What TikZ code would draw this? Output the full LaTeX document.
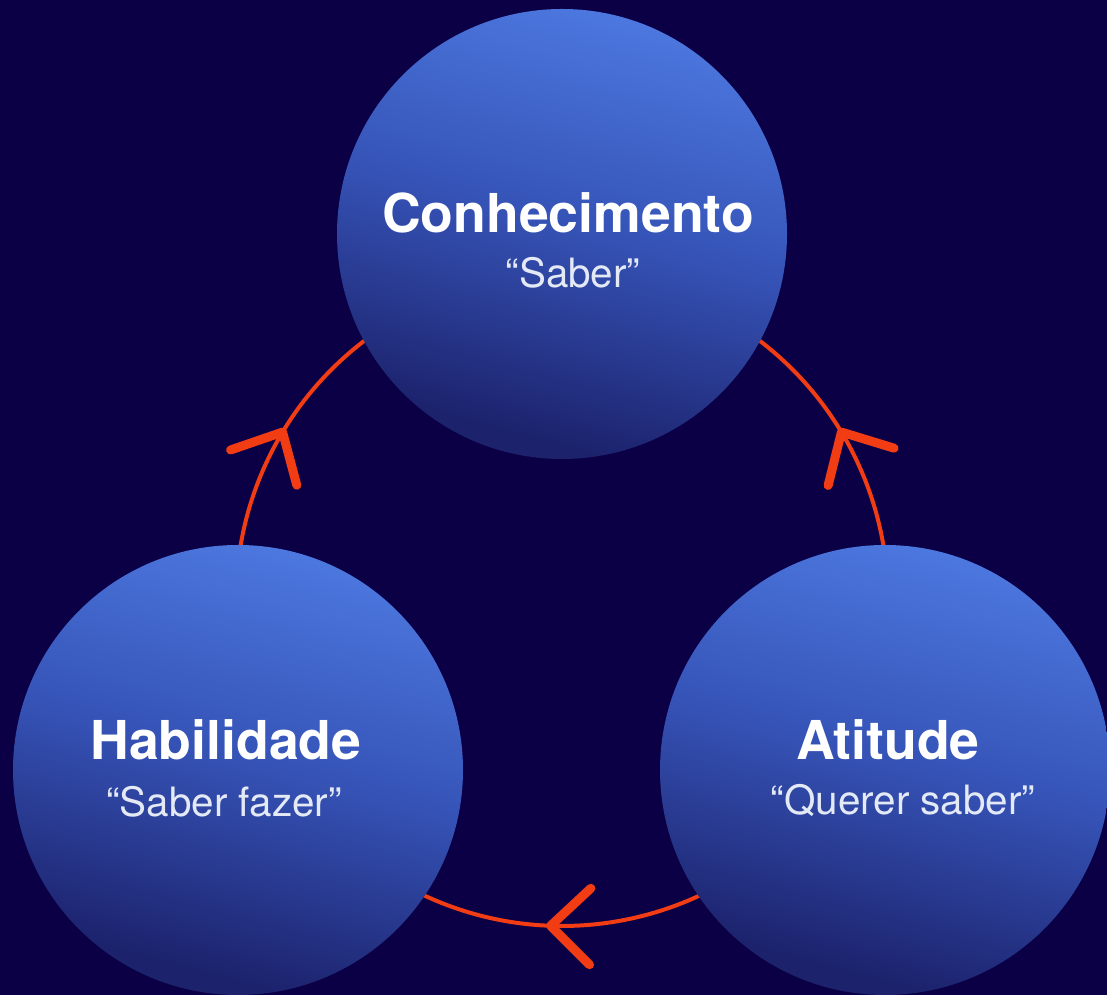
\documentclass[tikz,border=0pt]{standalone}
\usepackage{fontspec}
\setmainfont{TeX Gyre Heros}
\definecolor{bg}{HTML}{0B0045}
\definecolor{ringred}{HTML}{F23C14}
\definecolor{ctop}{HTML}{4D79E0}
\definecolor{cmid}{HTML}{3654B8}
\definecolor{cbot}{HTML}{1C226C}
\definecolor{subw}{HTML}{E4E9F6}
\pgfdeclareverticalshading{ballshade}{100bp}{color(0bp)=(cbot); color(27bp)=(cbot); color(52bp)=(cmid); color(76bp)=(ctop); color(100bp)=(ctop)}
\tikzset{
  ball/.style={circle, minimum size=9cm, inner sep=0pt,
    shading=ballshade, shading angle=-15},
  ttl/.style={anchor=base, text=white, inner sep=0pt,
    font=\bfseries\fontsize{30.5}{36}\selectfont},
  sub/.style={anchor=base, text=subw, inner sep=0pt,
    font=\fontsize{23}{28}\selectfont},
  ringline/.style={draw=ringred, line width=0.08cm},
  chev/.style={draw=ringred, line width=0.18cm, line cap=round, line join=round},
}
\begin{document}
\begin{tikzpicture}
\fill[bg] (0,0) rectangle (22.14,19.9);
\useasboundingbox (0,0) rectangle (22.14,19.9);
\clip (0,0) rectangle (22.14,19.9);
% ring
\coordinate (ring) at (11.24,7.9);
\coordinate (habOutL) at ([shift={(175:6.52)}]ring);
\coordinate (atiOutR) at ([shift={(5:6.52)}]ring);
\coordinate (atiOutB) at ([shift={(300:6.52)}]ring);
\coordinate (tipL) at ([shift={(149:6.52)}]ring);
\coordinate (tipR) at ([shift={(31:6.52)}]ring);
\coordinate (tipB) at ([shift={(268:6.52)}]ring);
\draw[ringline] (habOutL) arc[start angle=175, end angle=120, radius=6.52];
\draw[ringline] (atiOutR) arc[start angle=5, end angle=60, radius=6.52];
\draw[ringline] (atiOutB) arc[start angle=300, end angle=240, radius=6.52];
% arrowheads
\draw[chev] (tipL) ++(199:1.1) -- (tipL) -- ++(285:1.1);
\draw[chev] (tipR) ++(343:1.1) -- (tipR) -- ++(256:1.1);
\draw[chev] (tipB) ++(43:1.1) -- (tipB) -- ++(315:1.1);
% circles
\node[ball] (con) at (11.24,15.22) {};
\node[ball] (hab) at (4.76,4.5) {};
\node[ball] (ati) at (17.70,4.5) {};
% texts
\node[ttl] (conT) at (11.36,15.24) {Conhecimento};
\node[sub] (conS) at (11.46,14.14) {“Saber”};
\node[ttl] (habT) at (4.52,4.70) {Habilidade};
\node[sub] (habS) at (4.48,3.56) {“Saber fazer”};
\node[ttl] (atiT) at (17.76,4.70) {Atitude};
\node[sub] (atiS) at (18.06,3.60) {“Querer saber”};
\end{tikzpicture}
\end{document}
